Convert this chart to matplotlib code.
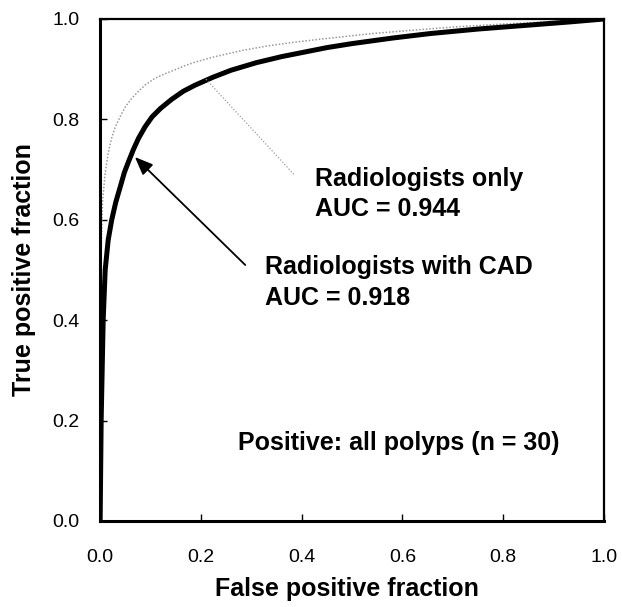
import matplotlib
matplotlib.use("Agg")
import matplotlib.pyplot as plt

plt.rcParams['font.family'] = ['Liberation Sans', 'DejaVu Sans']

# ROC points
cad_fpf = [0.0, 0.001, 0.002, 0.004, 0.006, 0.010, 0.016, 0.023, 0.031, 0.040,
           0.048, 0.056, 0.066, 0.076, 0.089, 0.103, 0.120, 0.142, 0.165, 0.188,
           0.224, 0.260, 0.310, 0.360, 0.400, 0.450, 0.500, 0.580, 0.655, 0.750,
           0.853, 0.930, 1.0]
cad_tpf = [0.0, 0.10, 0.20, 0.30, 0.40, 0.50, 0.56, 0.60, 0.635, 0.666,
           0.694, 0.715, 0.740, 0.762, 0.785, 0.805, 0.822, 0.840, 0.856, 0.868,
           0.884, 0.898, 0.913, 0.925, 0.933, 0.943, 0.951, 0.962, 0.971, 0.980,
           0.988, 0.994, 1.0]

rad_fpf = [0.0, 0.001, 0.002, 0.005, 0.010, 0.016, 0.022, 0.030, 0.040, 0.050,
           0.062, 0.075, 0.090, 0.109, 0.129, 0.149, 0.168, 0.188, 0.224, 0.280,
           0.330, 0.380, 0.430, 0.476, 0.540, 0.600, 0.700, 0.800, 0.900, 1.0]
rad_tpf = [0.0, 0.30, 0.54, 0.64, 0.693, 0.733, 0.760, 0.785, 0.806, 0.825,
           0.841, 0.855, 0.869, 0.882, 0.891, 0.899, 0.907, 0.914, 0.924, 0.937,
           0.946, 0.953, 0.959, 0.964, 0.971, 0.976, 0.984, 0.990, 0.995, 1.0]

ticks = [0.0, 0.2, 0.4, 0.6, 0.8, 1.0]
tick_labels = ["0.0", "0.2", "0.4", "0.6", "0.8", "1.0"]

fig = plt.figure(figsize=(6.22, 6.07), dpi=100)
ax = fig.add_axes([0.161, 0.1417, 0.810, 0.827])

ax.plot(rad_fpf, rad_tpf, color="#9a9a9a", lw=1.1, linestyle=(0, (1, 1.2)))
ax.plot(cad_fpf, cad_tpf, color="black", lw=3.6, solid_capstyle="butt",
        solid_joinstyle="round")

# pointer for "Radiologists only"
ax.plot([0.21, 0.385], [0.88, 0.69], color="#9a9a9a", lw=0.9, linestyle=(0, (1, 1.5)))

ax.annotate("", xy=(0.069, 0.725), xytext=(0.288, 0.51),
            arrowprops=dict(arrowstyle="-|>,head_length=1.1,head_width=0.45",
                            color="black", lw=1.3, shrinkA=0, shrinkB=0))

ax.text(0.427, 0.652, "Radiologists only\nAUC = 0.944", fontsize=18,
        fontweight="bold", ha="left", va="center", linespacing=1.33)
ax.text(0.327, 0.475, "Radiologists with CAD\nAUC = 0.918", fontsize=18,
        fontweight="bold", ha="left", va="center", linespacing=1.33)
ax.text(0.274, 0.155, "Positive: all polyps (n = 30)", fontsize=18,
        fontweight="bold", ha="left", va="center")

ax.set_xlim(0, 1)
ax.set_ylim(0, 1)
ax.set_xticks(ticks)
ax.set_xticklabels(tick_labels)
ax.set_yticks(ticks)
ax.set_yticklabels(tick_labels)
ax.tick_params(axis="both", direction="in", length=5, width=1, labelsize=14)
ax.tick_params(axis="x", pad=20)
ax.tick_params(axis="y", pad=15)

for side in ["left", "bottom"]:
    ax.spines[side].set_linewidth(2.2)
for side in ["top", "right"]:
    ax.spines[side].set_linewidth(1.6)

ax.set_xlabel("False positive fraction", fontsize=18, fontweight="bold")
ax.set_ylabel("True positive fraction", fontsize=18, fontweight="bold")
ax.xaxis.set_label_coords(0.49, -0.112)
ax.yaxis.set_label_coords(-0.128, 0.5)

fig.savefig("out.png", dpi=100)
